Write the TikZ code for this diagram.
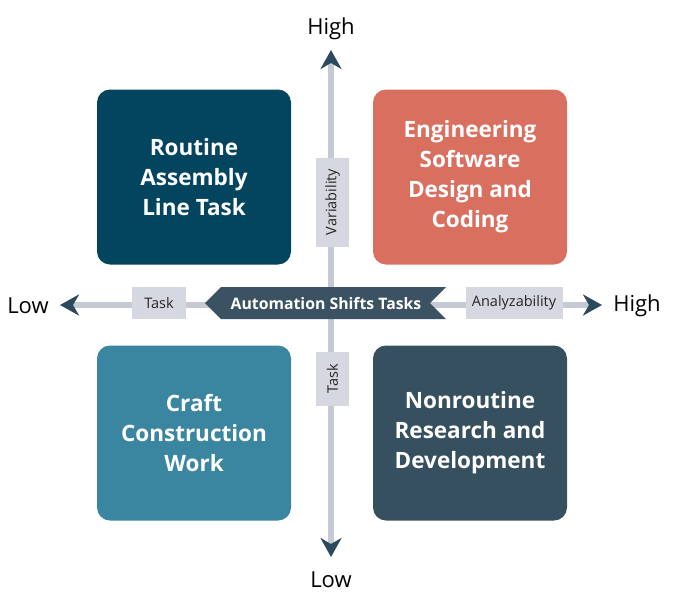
\documentclass[tikz,border=0pt]{standalone}
\usepackage{fontspec}
\setmainfont{Open Sans}
\usetikzlibrary{arrows.meta}
\definecolor{rtask}{HTML}{03445E}
\definecolor{eng}{HTML}{D9705F}
\definecolor{craft}{HTML}{3A86A0}
\definecolor{nonr}{HTML}{37505F}
\definecolor{banner}{HTML}{3A5262}
\definecolor{axisgray}{HTML}{C5C9D4}
\definecolor{taggray}{HTML}{D5D8E0}
\definecolor{tipblue}{HTML}{2C4A5E}
\begin{document}
\begin{tikzpicture}[x=1pt, y=-1pt,
		quad/.style={rounded corners=13pt, minimum width=194pt, minimum height=175pt, text=white, align=center, font=\bfseries\fontsize{22.5}{30}\selectfont},
		tag/.style={fill=taggray, inner sep=0pt, font=\fontsize{14.5}{16}\selectfont, text=black!85},
		axis/.style={line width=6pt, axisgray, {Stealth[length=19pt, width=21pt, inset=6pt, tipblue]}-{Stealth[length=19pt, width=21pt, inset=6pt, tipblue]}},
		ends/.style={font=\fontsize{22}{24}\selectfont}]
			\useasboundingbox (0,0) rectangle (680,600);
			% axes
			\coordinate (top) at (331,50);
			\coordinate (bot) at (331,557);
			\coordinate (lft) at (60,305);
			\coordinate (rgt) at (602,305);
			\draw[axis] (bot) -- (top);
			\draw[axis] (lft) -- (rgt);
			
			% quadrants
			\node[quad, fill=rtask] (rat) at (194,177) {Routine\\Assembly\\Line Task};
			\node[quad, fill=eng] (esd) at (470,177) {Engineering\\Software\\Design and\\Coding};
			\node[quad, fill=craft] (ccw) at (194,433) {Craft\\Construction\\Work};
			\node[quad, fill=nonr] (nrd) at (470,433) {Nonroutine\\Research and\\Development};
			
			% axis tags
			\node[tag, minimum width=54pt, minimum height=32pt] (tasklft) at (159,303) {Task};
			\node[tag, minimum width=97pt, minimum height=32pt] (analyz) at (514,303) {Analyzability};
			\node[tag, minimum width=89pt, minimum height=33pt, rotate=90] (variab) at (332.5,202) {Variability};
			\node[tag, minimum width=54pt, minimum height=33pt, rotate=90] (taskbot) at (332.5,379) {Task};
			
			% banner
			\fill[banner] (205,303) -- (221,287) -- (446,287) -- (430,303) -- (446,319) -- (221,319) -- cycle;
			\node[text=white, font=\bfseries\fontsize{15.8}{17}\selectfont] (shift) at (326,304) {Automation Shifts Tasks};
			
			% axis ends
			\node[ends] (hi) at (331,29) {High};
			\node[ends] (lo) at (331,580) {Low};
			\node[ends] (lolft) at (28,306) {Low};
			\node[ends] (hirgt) at (637,306) {High};
		\end{tikzpicture}
\end{document}
